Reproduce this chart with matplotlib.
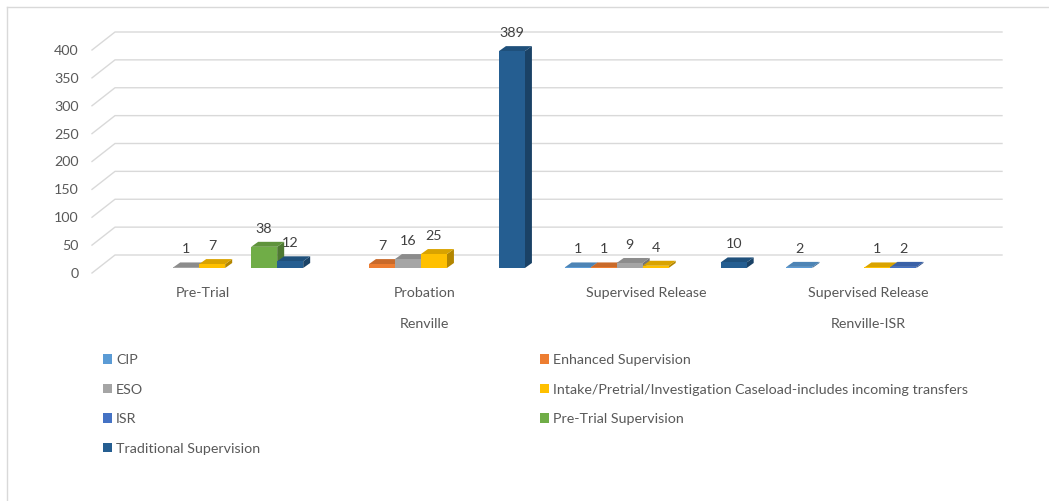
import numpy as np
import matplotlib
matplotlib.use("Agg")
from matplotlib import pyplot as plt
from matplotlib.patches import Polygon, Patch
from matplotlib.lines import Line2D

plt.rcParams['font.family'] = ['Lato', 'DejaVu Sans']

categories = ['Pre-Trial', 'Probation', 'Supervised Release', 'Supervised Release']
groups = ['Renville', 'Renville-ISR']
group_spans = [(0, 3), (3, 4)]  # category index ranges covered by each group

series = ['CIP', 'Enhanced Supervision', 'ESO',
          'Intake/Pretrial/Investigation Caseload-includes incoming transfers',
          'ISR', 'Pre-Trial Supervision', 'Traditional Supervision']
colors = ['#5B9BD5', '#ED7D31', '#A5A5A5', '#FFC000', '#4472C4', '#70AD47', '#255E91']

nan = np.nan
# values per series, one per category (nan = no bar)
cip = [nan, nan, 1, 2]
enhanced = [nan, 7, 1, nan]
eso = [1, 16, 9, nan]
intake = [7, 25, 4, 1]
isr = [nan, nan, nan, 2]
pretrial_sup = [38, nan, nan, nan]
traditional = [12, 389, 10, nan]
values = [cip, enhanced, eso, intake, isr, pretrial_sup, traditional]

yticks = list(range(0, 401, 50))

W, H = 1049, 501
txt_color = '#595959'
grid_color = '#d9d9d9'
fs = 10.3

fig = plt.figure(figsize=(W / 100, H / 100), dpi=100)
ax = fig.add_axes([92 / W, (H - 273) / H, 887 / W, 223 / H])
ax.set_xlim(0, len(categories))
ax.set_ylim(0, 400)
for s in ax.spines.values():
    s.set_visible(False)
ax.set_xticks([])
ax.set_yticks(yticks)
ax.tick_params(axis='y', length=0, pad=9.5, labelcolor=txt_color, labelsize=fs)
ax.patch.set_alpha(0)


def px_vec(dx, dy):
    # pixel offset -> data offset
    inv = ax.transData.inverted()
    p0 = ax.transData.transform((0, 0))
    return inv.transform(p0 + np.array([dx, dy]))


floor_dx, floor_dy = px_vec(23, 18)
front_dx, front_dy = px_vec(7, 5)
depth_dx, depth_dy = px_vec(7, 5)

# back wall gridlines with the little diagonal at the left
for v in yticks:
    ax.plot([0, floor_dx, len(categories) + floor_dx], [v, v + floor_dy, v + floor_dy],
            color=grid_color, lw=1, zorder=0, clip_on=False)


def shade(c, f):
    r, g, b = matplotlib.colors.to_rgb(c)
    return (r * f, g * f, b * f)


w = 26 / 221.75
start = 0.1
z = 2
for i in range(len(categories)):
    for j, vals in enumerate(values):
        v = vals[i]
        if np.isnan(v):
            continue
        x0 = i + start + j * w + front_dx
        y0 = front_dy
        c = colors[j]
        front = [(x0, y0), (x0 + w, y0), (x0 + w, y0 + v), (x0, y0 + v)]
        top = [(x0, y0 + v), (x0 + w, y0 + v), (x0 + w + depth_dx, y0 + v + depth_dy),
               (x0 + depth_dx, y0 + v + depth_dy)]
        side = [(x0 + w, y0), (x0 + w + depth_dx, y0 + depth_dy),
                (x0 + w + depth_dx, y0 + v + depth_dy), (x0 + w, y0 + v)]
        ax.add_patch(Polygon(side, closed=True, facecolor=shade(c, 0.7), edgecolor='none',
                             zorder=z, clip_on=False))
        ax.add_patch(Polygon(top, closed=True, facecolor=shade(c, 0.85), edgecolor='none',
                             zorder=z, clip_on=False))
        ax.add_patch(Polygon(front, closed=True, facecolor=c, edgecolor='none',
                             zorder=z + 0.5, clip_on=False))
        ax.annotate(f'{int(v)}', xy=(x0 + w / 2, y0 + v), xytext=(0, 18),
                    textcoords='offset pixels', ha='center', va='center',
                    fontsize=fs, color='#404040', zorder=50, annotation_clip=False)
        z += 1

for i, cat in enumerate(categories):
    ax.annotate(cat, xy=(i + 0.5, 0), xytext=(0, -20), textcoords='offset pixels',
                ha='center', va='center', fontsize=fs, color=txt_color, annotation_clip=False)
for g, (a, b) in zip(groups, group_spans):
    ax.annotate(g, xy=((a + b) / 2, 0), xytext=(0, -51), textcoords='offset pixels',
                ha='center', va='center', fontsize=fs, color=txt_color, annotation_clip=False)

# legend: two columns, row-major order like the original
handles = [Patch(facecolor=c, edgecolor='none') for c in colors]
left_idx = [0, 2, 4, 6]
right_idx = [1, 3, 5]
for idx, xpx in ((left_idx, 103), (right_idx, 540)):
    leg = fig.legend([handles[k] for k in idx], [series[k] for k in idx],
                     loc='upper left', bbox_to_anchor=(xpx / W, 1 - 354 / H),
                     frameon=False, fontsize=fs, labelcolor=txt_color,
                     handlelength=0.62, handleheight=0.62, handletextpad=0.3,
                     labelspacing=1.225, borderpad=0, borderaxespad=0)

# chart area border
fig.add_artist(Line2D([7 / W, 1], [1 - 7 / H, 1 - 7 / H], color=grid_color, lw=1))
fig.add_artist(Line2D([7 / W, 7 / W], [1 - 7 / H, 0], color=grid_color, lw=1))

fig.savefig('out.png', dpi=100)
